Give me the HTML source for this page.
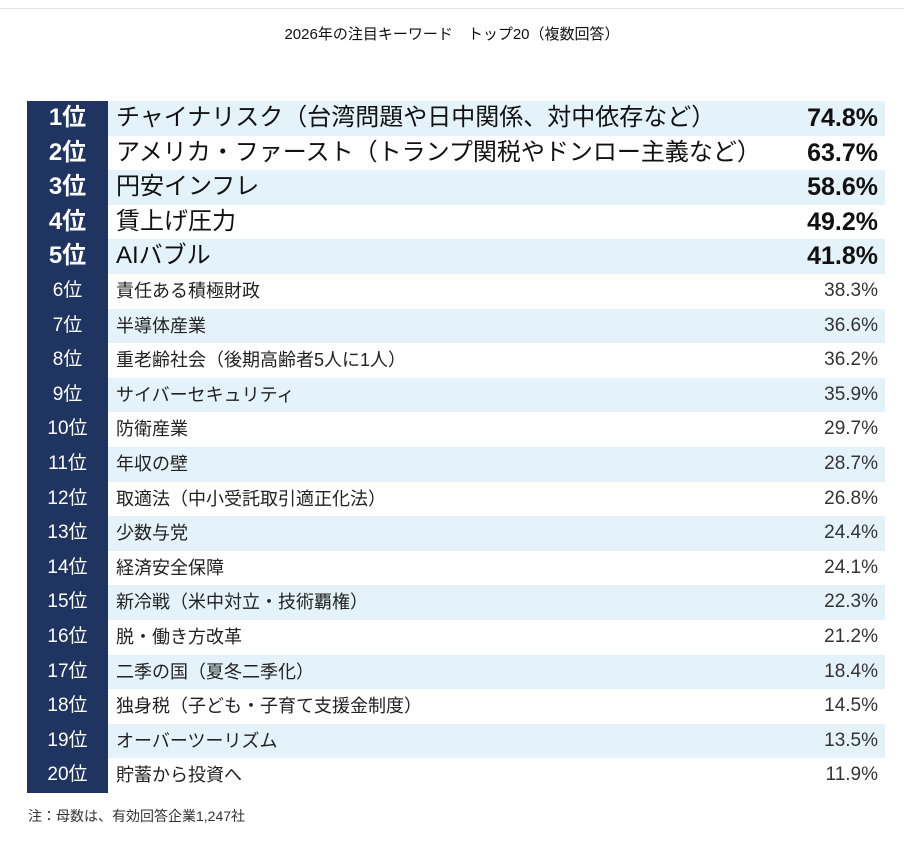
<!DOCTYPE html>
<html><head><meta charset="utf-8"><style>
body{margin:0;width:904px;height:848px;background:#fff;position:relative;overflow:hidden;font-family:"Liberation Sans","Noto Sans CJK JP",sans-serif;color:#222}
.topline{position:absolute;left:0;top:8px;width:904px;height:1px;background:#e4e4e4}
.title{position:absolute;top:23px;left:0;width:904px;text-align:center;font-size:15px;color:#111}
.nav{position:absolute;left:27px;top:101px;width:81px;height:692px;background:#1f3461}
.row{position:absolute;left:27px;width:858px;height:34.6px}
.row.b{background:#e4f3f9}
.rk{position:absolute;left:0;width:81px;text-align:center;color:#fff;font-size:19px;line-height:34.6px}
.lb{position:absolute;left:89px;font-size:18px;line-height:34.6px;white-space:nowrap}
.pc{position:absolute;right:7px;font-size:19px;line-height:34.6px;color:#333}
.t .rk{font-size:24px;font-weight:bold}
.t .lb{font-size:24px;color:#111}
.t .pc{font-size:25px;font-weight:bold;color:#111}
.note{position:absolute;left:28px;top:806px;font-size:14px;color:#333}
</style></head><body>
<div class="topline"></div>
<div class="title">2026年の注目キーワード　トップ20（複数回答）</div>
<div id="t"></div>
<div class="note">注：母数は、有効回答企業1,247社</div>
<script>
var d=[["チャイナリスク（台湾問題や日中関係、対中依存など）","74.8%"],["アメリカ・ファースト（トランプ関税やドンロー主義など）","63.7%"],["円安インフレ","58.6%"],["賃上げ圧力","49.2%"],["AIバブル","41.8%"],["責任ある積極財政","38.3%"],["半導体産業","36.6%"],["重老齢社会（後期高齢者5人に1人）","36.2%"],["サイバーセキュリティ","35.9%"],["防衛産業","29.7%"],["年収の壁","28.7%"],["取適法（中小受託取引適正化法）","26.8%"],["少数与党","24.4%"],["経済安全保障","24.1%"],["新冷戦（米中対立・技術覇権）","22.3%"],["脱・働き方改革","21.2%"],["二季の国（夏冬二季化）","18.4%"],["独身税（子ども・子育て支援金制度）","14.5%"],["オーバーツーリズム","13.5%"],["貯蓄から投資へ","11.9%"]];
var h='<div class="nav"></div>';
d.forEach(function(r,i){h+='<div class="row'+(i%2==0?' b':'')+(i<5?' t':'')+'" style="top:'+(101+i*34.6)+'px"><div class="rk" style="background:#1f3461">'+(i+1)+'位</div><div class="lb">'+r[0]+'</div><div class="pc">'+r[1]+'</div></div>';});
document.getElementById('t').innerHTML=h;
</script>
</body></html>
